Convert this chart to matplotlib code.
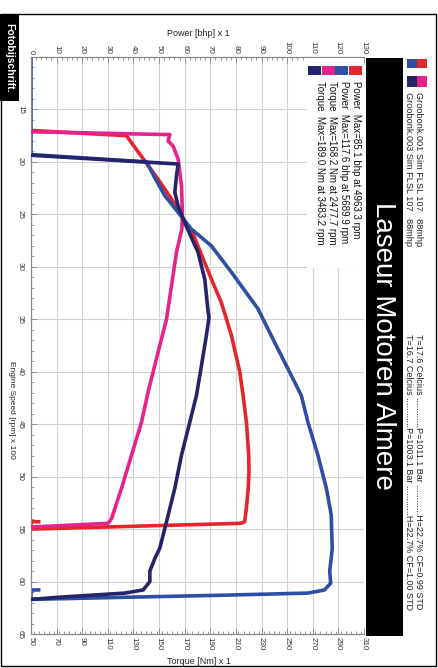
import matplotlib
matplotlib.use("Agg")
import matplotlib.pyplot as plt
from matplotlib.patches import Rectangle
from matplotlib.ticker import MultipleLocator

plt.rcParams['font.family'] = ['Liberation Sans', 'DejaVu Sans']

# ---------------- data ----------------
red_rpm = [17.0, 17.5, 18.2, 19.9, 21.65, 23.55, 25.1, 27.0, 29.6, 31.5, 33.4, 36.5,
           40.0, 42.25, 44.8, 47.95, 49.6, 51.1, 53.0, 54.3, 54.45, 55.0, 54.3, 54.3]
red_power = [0, 37.3, 39.3, 44.4, 49.6, 54.9, 58.7, 63.5, 67.8, 71.0, 74.3, 78.2,
             81.5, 82.8, 84.1, 85.0, 85.1, 84.8, 84.1, 83.4, 82.0, 0, 0, 3.0]

blue_rpm = [10, 19.3, 20.0, 21.5, 23.2, 24.8, 26.4, 28.0, 30.5, 34.0, 37.2, 40.35,
            42.25, 44.8, 47.95, 51.1, 53.65, 56.9, 59.0, 60.15, 60.8, 61.1, 61.3,
            61.5, 61.7, 60.8, 60.8]
blue_power = [0, 0, 45.1, 48.3, 52.2, 57.4, 62.6, 70.4, 78.2, 88.6, 95.1, 101.6,
              105.5, 108.1, 112.0, 115.3, 117.2, 117.6, 116.6, 117.0, 114.6, 108.1, 75.6,
              36.6, 0, 0, 3.0]

magenta_rpm = [17.0, 17.4, 18.0, 18.5, 19.75, 22.3, 24.8, 26.4, 28.6, 31.8, 35.0, 38.1,
               41.9, 44.8, 47.95, 51.1, 54.0, 54.45, 55.1]
magenta_torque = [0, 158.4, 157.0, 161.0, 164.9, 167.5, 168.2, 167.8, 163.6, 159.7, 155.8,
                  149.3, 141.5, 136.3, 128.5, 120.7, 112.9, 110.3, 0]

navy_rpm = [19.0, 20.2, 21.3, 22.9, 24.2, 25.8, 28.6, 31.2, 34.3, 34.8, 36.5, 39.4,
            42.25, 44.8, 47.95, 51.1, 54.3, 56.8, 57.8, 59.0, 60.0, 60.8, 61.1, 61.5,
            61.7, 61.8]
navy_torque = [0, 164.9, 163.6, 162.3, 164.9, 170.0, 180.4, 185.7, 188.3, 189.0, 187.0,
               183.1, 179.2, 174.0, 167.5, 162.3, 155.8, 150.6, 146.7, 142.8, 142.8, 137.6,
               123.3, 71.3, 50, 0]

power_ticks = list(range(0, 131, 10))
torque_ticks = list(range(50, 311, 20))
rpm_ticks = list(range(15, 66, 5))

legend_labels = ["Power  Max=85.1 bhp at 4963.3 rpm",
                 "Power  Max=117.6 bhp at 5689.9 rpm",
                 "Torque  Max=168.2 Nm at 2477.7 rpm",
                 "Torque  Max=189.0 Nm at 3483.2 rpm"]
title = "Laseur Motoren Almere"
run_lines = ["Groobonk.001 Sim FLSL 107   88mhp",
             "Groobonk.003 Sim FLSL 107   88mhp"]
cond_lines = ["T=17.6 Celcius ............P=1011.1 Bar ............H=22.7% CF=0.99 STD",
              "T=16.7 Celcius ............P=1003.1 Bar ............H=22.7% CF=1.00 STD"]

RED = '#e3262b'
BLUE = '#2d4ea2'
MAGENTA = '#e6238c'
NAVY = '#25236a'

# ---------------- figure ----------------
W, H = 438, 668
fig = plt.figure(figsize=(W / 100, H / 100), dpi=100)
def fx(x): return x / W
def fy(y): return 1 - y / H

ax = fig.add_axes([fx(31), fy(634), fx(364) - fx(31), fy(57) - fy(634)])
ax.set_xlim(0, 130)
ax.set_ylim(65, 10)
ax2 = ax.twiny()
ax2.set_xlim(50, 310)

lw = 2.6
ax.plot(red_power, red_rpm, color=RED, lw=lw, zorder=3, solid_joinstyle='round')
ax.plot(blue_power, blue_rpm, color=BLUE, lw=lw, zorder=3, solid_joinstyle='round')
ax2.plot(magenta_torque, magenta_rpm, color=MAGENTA, lw=lw, zorder=3, solid_joinstyle='round')
ax2.plot(navy_torque, navy_rpm, color=NAVY, lw=lw, zorder=3, solid_joinstyle='round')

# ticks
tick_fs = 5.8
ax.xaxis.set_ticks_position('top')
ax.set_xticks(power_ticks)
ax.set_xticklabels([str(v) for v in power_ticks], rotation=-90, fontsize=tick_fs, color='#333333')
ax.xaxis.set_minor_locator(MultipleLocator(2))
ax.set_yticks(rpm_ticks)
ax.set_yticklabels([str(v) for v in rpm_ticks], rotation=-90, fontsize=tick_fs, color='#333333',
                   va='center')
ax.yaxis.set_minor_locator(MultipleLocator(1))
ax.tick_params(axis='both', which='both', direction='in', color='#888888', width=0.6)
ax.tick_params(axis='x', which='major', length=4, pad=2)
ax.tick_params(axis='x', which='minor', length=2)
ax.tick_params(axis='y', which='major', length=4, pad=5)
ax.tick_params(axis='y', which='minor', length=2)

ax2.xaxis.set_ticks_position('bottom')
ax2.set_xticks(torque_ticks)
ax2.set_xticklabels([str(v) for v in torque_ticks], rotation=-90, fontsize=tick_fs, color='#333333')
ax2.xaxis.set_minor_locator(MultipleLocator(4))
ax2.tick_params(axis='x', which='both', direction='in', color='#888888', width=0.6)
ax2.tick_params(axis='x', which='major', length=4, pad=2)
ax2.tick_params(axis='x', which='minor', length=2)

ax.grid(True, which='major', color='#d2d2d2', lw=0.8, zorder=0)
ax.set_axisbelow(True)
for a in (ax, ax2):
    for s in a.spines.values():
        s.set_color('#888888')
        s.set_linewidth(0.8)
    a.spines['right'].set_visible(False)

# axis labels
fig.text(fx(198), fy(33), "Power [bhp] x 1", fontsize=6.5, ha='center', va='center', color='#222222')
fig.text(fx(199), fy(661), "Torque [Nm] x 1", fontsize=6.5, ha='center', va='center', color='#222222')
fig.text(fx(11), fy(410), "Engine Speed [rpm] x 100", fontsize=6, ha='center', va='center',
         rotation=-90, color='#222222')

# legend box inside plot
fig.patches.append(Rectangle((fx(307), fy(268)), fx(364) - fx(307), fy(58) - fy(268),
                             transform=fig.transFigure, facecolor='white', edgecolor='none', zorder=2))
sq_cols = [NAVY, MAGENTA, BLUE, RED]
for i, c in enumerate(sq_cols):
    fig.patches.append(Rectangle((fx(308 + i * 13.5), fy(75)), fx(13), fy(66) - fy(75),
                                 transform=fig.transFigure, facecolor=c, edgecolor='none', zorder=3))
leg_x = [356, 344, 332, 320]
for lbl, xx in zip(legend_labels, leg_x):
    fig.text(fx(xx), fy(81), lbl, fontsize=7, rotation=-90, ha='center', va='top', color='#111111',
             zorder=4)

# title band
fig.patches.append(Rectangle((fx(366), fy(636)), fx(403) - fx(366), fy(58) - fy(636),
                             transform=fig.transFigure, facecolor='black', edgecolor='none'))
fig.text(fx(383), fy(346), title, fontsize=20, rotation=-90, ha='center', va='center', color='white')

# run info
for i, c in enumerate([BLUE, RED]):
    fig.patches.append(Rectangle((fx(407 + i * 10), fy(68)), fx(10), fy(59) - fy(68),
                                 transform=fig.transFigure, facecolor=c, edgecolor='none'))
for i, c in enumerate([NAVY, MAGENTA]):
    fig.patches.append(Rectangle((fx(407 + i * 10), fy(87)), fx(10), fy(76) - fy(87),
                                 transform=fig.transFigure, facecolor=c, edgecolor='none'))
for txt, xx in zip(run_lines, [419, 409]):
    fig.text(fx(xx), fy(92), txt, fontsize=6.6, rotation=-90, ha='center', va='top', color='#222222')
for txt, xx in zip(cond_lines, [419, 409]):
    fig.text(fx(xx), fy(334), txt, fontsize=6.5, rotation=-90, ha='center', va='top', color='#222222')

# outer frame
fig.patches.append(Rectangle((fx(1), fy(666)), fx(435), fy(14) - fy(666), transform=fig.transFigure,
                             facecolor='none', edgecolor='black', lw=1.0))
# caption tag
fig.patches.append(Rectangle((fx(0), fy(101)), fx(19), fy(14) - fy(101), transform=fig.transFigure,
                             facecolor='black', edgecolor='none', zorder=5))
fig.text(fx(9.5), fy(58), "Fotobijschrift.", fontsize=7.5, fontweight='bold', rotation=-90,
         ha='center', va='center', color='white', zorder=6)

fig.savefig('out.png', dpi=100)
